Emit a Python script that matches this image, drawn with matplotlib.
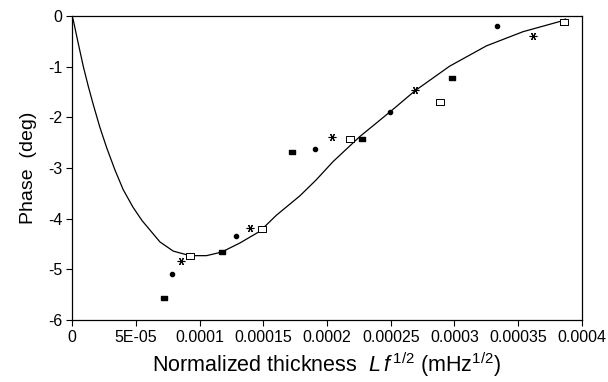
import matplotlib
matplotlib.use("Agg")
import matplotlib.pyplot as plt
from matplotlib.ticker import FixedLocator, FixedFormatter

plt.rcParams["font.family"] = ["Liberation Sans", "DejaVu Sans"]
plt.rcParams["mathtext.fontset"] = "custom"
plt.rcParams["mathtext.rm"] = "Liberation Sans"
plt.rcParams["mathtext.it"] = "Liberation Sans:italic"

# measured points, four series (marker types)
x_rect = [7.23e-5, 1.178e-4, 1.726e-4, 2.273e-4, 2.978e-4]
y_rect = [-5.57, -4.65, -2.69, -2.43, -1.22]
x_dot = [7.81e-5, 1.285e-4, 1.904e-4, 2.494e-4, 3.333e-4]
y_dot = [-5.09, -4.35, -2.63, -1.89, -0.20]
x_ast = [8.52e-5, 1.40e-4, 2.043e-4, 2.688e-4, 3.615e-4]
y_ast = [-4.83, -4.18, -2.38, -1.47, -0.39]
x_sq = [9.25e-5, 1.494e-4, 2.184e-4, 2.886e-4, 3.856e-4]
y_sq = [-4.74, -4.21, -2.43, -1.70, -0.12]

# model curve
x_fit = [0, 1e-6, 4.9e-6, 8.9e-6, 1.28e-5, 1.67e-5, 2.19e-5, 2.72e-5, 3.37e-5,
         4.02e-5, 4.8e-5, 5.5e-5, 6.1e-5, 6.9e-5, 7.94e-5, 9.25e-5, 1.055e-4,
         1.173e-4, 1.317e-4, 1.473e-4, 1.604e-4, 1.787e-4, 1.917e-4, 2.045e-4,
         2.257e-4, 2.505e-4, 2.688e-4, 2.962e-4, 3.25e-4, 3.537e-4, 3.824e-4, 3.87e-4]
y_fit = [0, -0.08, -0.54, -1.0, -1.39, -1.75, -2.2, -2.6, -3.04,
         -3.43, -3.78, -4.04, -4.22, -4.46, -4.64, -4.73, -4.73,
         -4.66, -4.48, -4.25, -3.93, -3.55, -3.23, -2.88,
         -2.38, -1.87, -1.48, -0.99, -0.59, -0.31, -0.11, -0.06]

xticks = [0, 5e-5, 1e-4, 1.5e-4, 2e-4, 2.5e-4, 3e-4, 3.5e-4, 4e-4]
xtick_labels = ["0", "5E-05", "0.0001", "0.00015", "0.0002", "0.00025",
                "0.0003", "0.00035", "0.0004"]
yticks = [0, -1, -2, -3, -4, -5, -6]
ytick_labels = ["0", "-1", "-2", "-3", "-4", "-5", "-6"]

fig = plt.figure(figsize=(6.08, 3.82), dpi=100)
ax = fig.add_axes([72 / 608, 1 - 320 / 382, 510 / 608, 304 / 382])

ax.plot(x_fit, y_fit, color="black", lw=0.9)

rect_m = [(-1.4, -0.9), (1.4, -0.9), (1.4, 0.9), (-1.4, 0.9), (-1.4, -0.9)]
ax.plot(x_rect, y_rect, ls="none", marker=rect_m, ms=5, color="black")
ax.plot(x_dot, y_dot, ls="none", marker="o", ms=3, color="black")
ax.plot(x_ast, y_ast, ls="none", marker=(6, 2, 90), ms=5.5, color="black", mew=0.8)
ax.plot(x_sq, y_sq, ls="none", marker=rect_m, ms=6, mfc="white", mec="black", mew=0.7)

ax.set_xlim(0, 4e-4)
ax.set_ylim(-6, 0)
ax.xaxis.set_major_locator(FixedLocator(xticks))
ax.xaxis.set_major_formatter(FixedFormatter(xtick_labels))
ax.yaxis.set_major_locator(FixedLocator(yticks))
ax.yaxis.set_major_formatter(FixedFormatter(ytick_labels))
ax.tick_params(direction="out", length=4, width=0.8, labelsize=11.5, pad=3)

for s in ax.spines.values():
    s.set_linewidth(0.9)

ax.set_xlabel(r"Normalized thickness  $L\,f^{\,1/2}$ (mHz$^{1/2}$)", fontsize=15.5, labelpad=4)
ax.set_ylabel("Phase  (deg)", fontsize=14, labelpad=8)

fig.savefig("out.png", dpi=100)
